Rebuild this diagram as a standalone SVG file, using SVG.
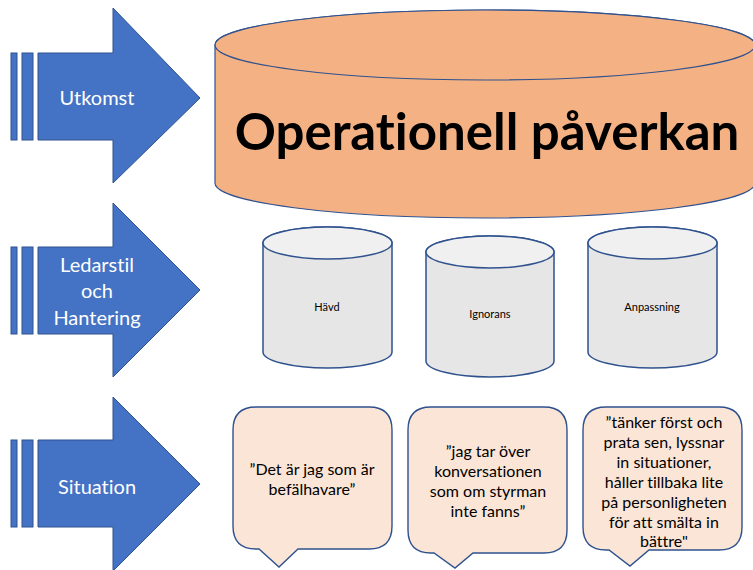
<svg xmlns="http://www.w3.org/2000/svg" width="753" height="570" viewBox="0 0 753 570">
<style>
text{font-variant-ligatures:none;font-feature-settings:"liga" 0}
.arrow{fill:#4472C4;stroke:#2F528F;stroke-width:1}
.at{fill:#ffffff;font-family:Lato,"Liberation Sans",sans-serif;font-size:20px;text-anchor:middle}
.cylb{fill:#E7E6E6;stroke:#2F528F;stroke-width:1.5}
.cylt{fill:#F0F0F0;stroke:#2F528F;stroke-width:1.5}
.ct{fill:#000;font-family:Lato,"Liberation Sans",sans-serif;font-size:11px;text-anchor:middle}
.call{fill:#FBE5D6;stroke:#2F528F;stroke-width:1.4}
.qt{fill:#000;font-family:Lato,"Liberation Sans",sans-serif;font-size:16px;text-anchor:middle}
</style>
<rect width="753" height="570" fill="#ffffff"/>
<g id="arrow-utkomst">
<rect class="arrow" x="11" y="53" width="6" height="87"/>
<rect class="arrow" x="22" y="53" width="11" height="87"/>
<polygon class="arrow" points="38,53 113,53 113,8 200,98 113,183 113,140 38,140"/>
<text class="at" x="97" y="105">Utkomst</text>
</g>
<g id="arrow-ledarstil">
<rect class="arrow" x="11" y="247" width="6" height="87"/>
<rect class="arrow" x="22" y="247" width="11" height="87"/>
<polygon class="arrow" points="38,247 113,247 113,203 200,290 113,377 113,334 38,334"/>
<text class="at" x="97" y="272">Ledarstil</text>
<text class="at" x="97" y="298">och</text>
<text class="at" x="97" y="325">Hantering</text>
</g>
<g id="arrow-situation">
<rect class="arrow" x="11" y="440" width="6" height="87"/>
<rect class="arrow" x="22" y="440" width="11" height="87"/>
<polygon class="arrow" points="38,440 113,440 113,397 200,484 113,571 113,527 38,527"/>
<text class="at" x="97" y="494">Situation</text>
</g>
<g id="cyl-operationell">
<path d="M215,45 A270,35 0 0 1 755,45 V183 A270,35 0 0 1 215,183 Z" fill="#F4B183" stroke="#2F528F" stroke-width="1.2"/>
<ellipse cx="485" cy="45" rx="270" ry="35" fill="#F4B183" stroke="#2F528F" stroke-width="1.2"/>
<text x="487" y="150" font-family="Lato,'Liberation Sans',sans-serif" font-weight="bold" font-size="51" text-anchor="middle" fill="#000">Operationell påverkan</text>
</g>
<g id="cyl-havd">
<path class="cylb" d="M263,243 A64.5,16 0 0 1 392,243 V352 A64.5,16 0 0 1 263,352 Z"/>
<ellipse class="cylt" cx="327.5" cy="243" rx="64.5" ry="16"/>
<text class="ct" x="327" y="311">Hävd</text>
</g>
<g id="cyl-ignorans">
<path class="cylb" d="M426,252 A64,16 0 0 1 554,252 V361 A64,16 0 0 1 426,361 Z"/>
<ellipse class="cylt" cx="490" cy="252" rx="64" ry="16"/>
<text class="ct" x="490" y="318">Ignorans</text>
</g>
<g id="cyl-anpassning">
<path class="cylb" d="M588,243 A64.5,16 0 0 1 717,243 V352 A64.5,16 0 0 1 588,352 Z"/>
<ellipse class="cylt" cx="652.5" cy="243" rx="64.5" ry="16"/>
<text class="ct" x="652" y="311">Anpassning</text>
</g>
<g id="callout-1">
<path class="call" d="M256,407 H369 Q392,407 392,430 V526 Q392,549 369,549 H298 L279,567 L259,549 H256 Q233,549 233,526 V430 Q233,407 256,407 Z"/>
<text class="qt" x="312" y="475">”Det är jag som är</text>
<text class="qt" x="312" y="495">befälhavare”</text>
</g>
<g id="callout-2">
<path class="call" d="M431,407 H544 Q567,407 567,430 V530 Q567,553 544,553 H473 L455,568 L434,553 H431 Q408,553 408,530 V430 Q408,407 431,407 Z"/>
<text class="qt" x="488" y="457">”jag tar över</text>
<text class="qt" x="488" y="477">konversationen</text>
<text class="qt" x="488" y="497">som om styrman</text>
<text class="qt" x="488" y="517">inte fanns”</text>
</g>
<g id="callout-3">
<path class="call" d="M606,407 H719 Q742,407 742,430 V527 Q742,550 719,550 H649 L630,566 L609,550 H606 Q583,550 583,527 V430 Q583,407 606,407 Z"/>
<text class="qt" x="664" y="428">”tänker först och</text>
<text class="qt" x="664" y="448">prata sen, lyssnar</text>
<text class="qt" x="664" y="468">in situationer,</text>
<text class="qt" x="664" y="488">håller tillbaka lite</text>
<text class="qt" x="664" y="508">på personligheten</text>
<text class="qt" x="664" y="528">för att smälta in</text>
<text class="qt" x="664" y="547">bättre"</text>
</g>
<g id="connectors"/>
</svg>
